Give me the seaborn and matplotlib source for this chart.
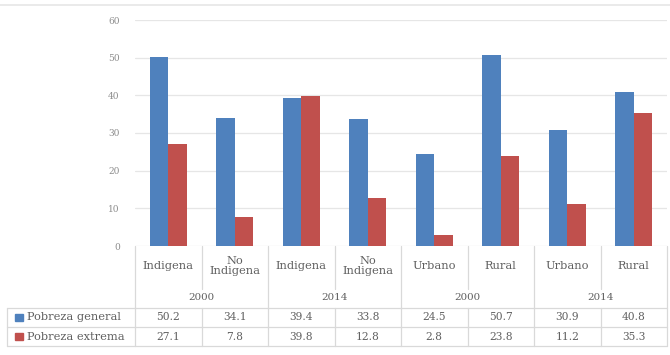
import pandas as pd
import numpy as np
import matplotlib
matplotlib.use("Agg")
import matplotlib.pyplot as plt
import matplotlib.transforms as mtransforms
from matplotlib.lines import Line2D
from matplotlib.patches import Rectangle
import seaborn as sns

categorias = ['Indigena', 'No\nIndigena', 'Indigena', 'No\nIndigena',
              'Urbano', 'Rural', 'Urbano', 'Rural']
anios = ['2000', '2000', '2014', '2014', '2000', '2000', '2014', '2014']
pobreza_general = [50.2, 34.1, 39.4, 33.8, 24.5, 50.7, 30.9, 40.8]
pobreza_extrema = [27.1, 7.8, 39.8, 12.8, 2.8, 23.8, 11.2, 35.3]
series = ['Pobreza general', 'Pobreza extrema']
colores = ['#4F81BD', '#C0504D']
yticks = [0, 10, 20, 30, 40, 50, 60]

claves = [f"{i}" for i in range(len(categorias))]
df = pd.DataFrame({
    'clave': claves * 2,
    'serie': [series[0]] * len(claves) + [series[1]] * len(claves),
    'valor': pobreza_general + pobreza_extrema,
})

sns.set_style("white")
plt.rcParams['font.family'] = ['DejaVu Serif']

W, H = 670, 355
fig = plt.figure(figsize=(W / 100, H / 100), dpi=100)
ax = fig.add_axes([135 / W, 1 - 246 / H, 532 / W, 226 / H])

sns.barplot(data=df, x='clave', y='valor', hue='serie', order=claves,
            palette=colores, width=0.56, saturation=1, legend=False,
            linewidth=0, edgecolor='none', ax=ax)

ax.set_ylim(0, 60)
ax.set_xlim(-0.5, len(claves) - 0.5)
ax.set_yticks(yticks)
ax.set_yticklabels([str(t) for t in yticks], fontsize=6.5, color='#8c8c8c')
ax.tick_params(axis='y', length=0, pad=11)
ax.set_xticks([])
ax.set_xlabel('')
ax.set_ylabel('')
ax.grid(axis='y', color='#e6e6e6', linewidth=0.9)
ax.set_axisbelow(True)
for s in ax.spines.values():
    s.set_visible(False)

# tabla de datos debajo del grafico
trans = mtransforms.blended_transform_factory(ax.transData, fig.transFigure)
lc = '#d9d9d9'
tc = '#5f5f5f'
fs = 8.2


def fy(py):
    return 1 - py / H


def hline(x0, x1, py, tr=trans):
    fig.add_artist(Line2D([x0, x1], [fy(py), fy(py)], color=lc, lw=0.9,
                          transform=tr))


def vline(x, py0, py1):
    fig.add_artist(Line2D([x, x], [fy(py0), fy(py1)], color=lc, lw=0.9,
                          transform=trans))


n = len(claves)
top, year_top, r1, r2, bot = 246, 289, 308, 327, 346
for i in range(n + 1):
    x = i - 0.5
    if i % 2 == 0:
        vline(x, top, bot)
    else:
        vline(x, top, year_top)
        vline(x, r1, bot)
for py in (r1, r2, bot):
    hline(7 / W, 1 - 3 / W, py, tr=fig.transFigure)
fig.add_artist(Line2D([7 / W, 7 / W], [fy(r1), fy(bot)], color=lc, lw=0.9,
                      transform=fig.transFigure))

for i, cat in enumerate(categorias):
    fig.text(i, fy(266), cat, transform=trans, ha='center', va='center',
             fontsize=fs, color=tc, linespacing=1.0)
for g in range(0, n, 2):
    fig.text(g + 0.5, fy(298), anios[g], transform=trans, ha='center',
             va='center', fontsize=fs - 0.8, color=tc)

for k, (vals, py) in enumerate([(pobreza_general, (r1 + r2) / 2),
                               (pobreza_extrema, (r2 + bot) / 2)]):
    for i, v in enumerate(vals):
        fig.text(i, fy(py), f"{v}", transform=trans, ha='center',
                 va='center', fontsize=fs - 0.5, color=tc)
    fig.add_artist(Rectangle((15 / W, fy(py + 3.5)), 8 / W, 7 / H,
                             color=colores[k], transform=fig.transFigure))
    fig.text(27 / W, fy(py), series[k], ha='left', va='center',
             fontsize=fs, color=tc)

# marco superior
fig.add_artist(Line2D([0, 1], [fy(5), fy(5)], color='#e6e6e6', lw=1.2,
                      transform=fig.transFigure))

fig.savefig('out.png', dpi=100)
